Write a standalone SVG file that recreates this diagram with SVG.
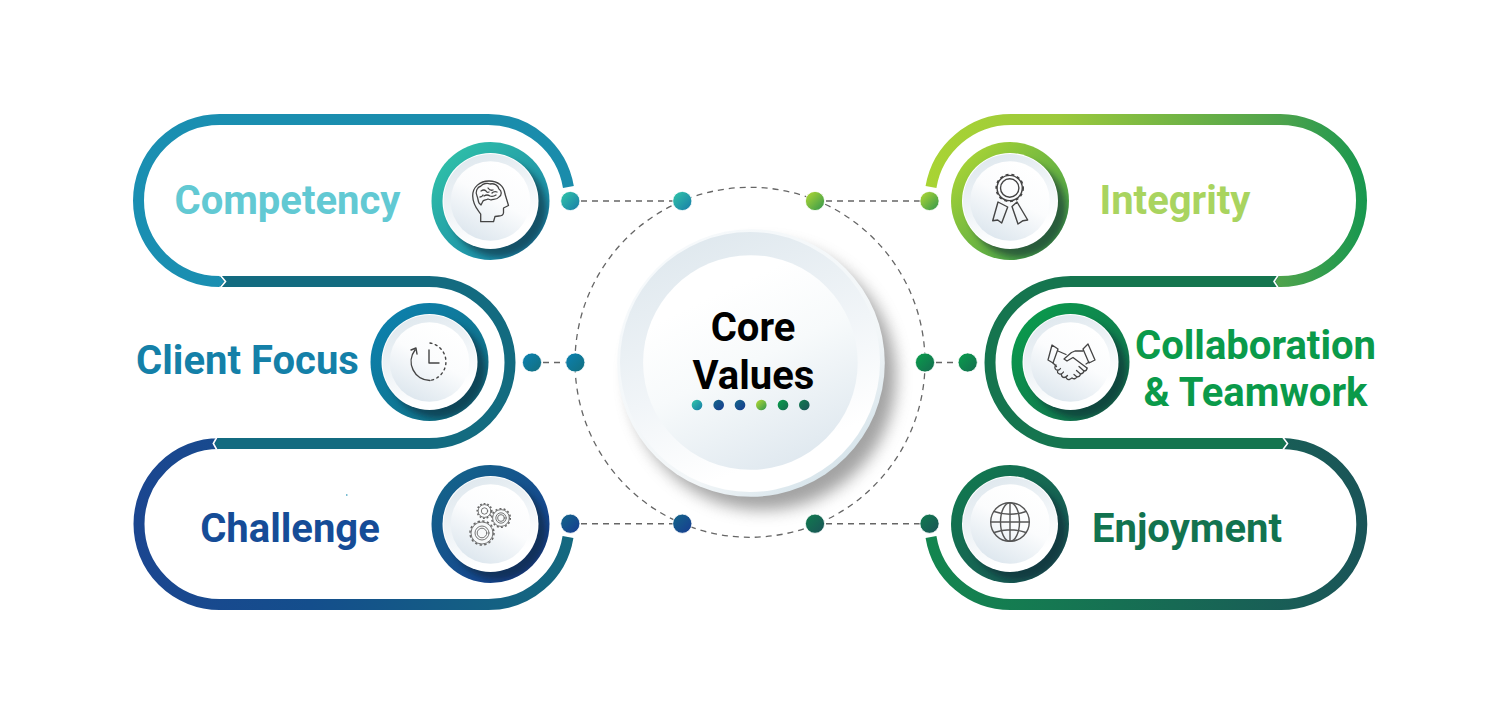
<svg xmlns="http://www.w3.org/2000/svg" xmlns:xlink="http://www.w3.org/1999/xlink" width="1500" height="725" viewBox="0 0 1500 725">
<style>
.label{font-family:Roboto,"Liberation Sans",sans-serif;font-weight:700;text-anchor:middle}
.band{fill:none;stroke-width:11}
.dash{fill:none;stroke:#666;stroke-width:1.5;stroke-dasharray:6 5}
.dot{stroke:#fff;stroke-width:.8}
.sep{fill:none;stroke:#fff;stroke-width:1.6}
.ic{fill:none;stroke:#444;stroke-width:1.3;stroke-linejoin:round;stroke-linecap:round}
</style>
<defs>
<linearGradient id="gA" x1=".1" y1=".1" x2=".9" y2=".9"><stop offset="0" stop-color="#2fc0a8"/><stop offset="1" stop-color="#1a82a8"/></linearGradient>
<linearGradient id="gB" x1=".1" y1=".1" x2=".9" y2=".9"><stop offset="0" stop-color="#0c80ad"/><stop offset="1" stop-color="#127082"/></linearGradient>
<linearGradient id="gC" x1=".1" y1=".1" x2=".9" y2=".9"><stop offset="0" stop-color="#14638a"/><stop offset="1" stop-color="#173f90"/></linearGradient>
<linearGradient id="gD" x1=".1" y1=".1" x2=".9" y2=".9"><stop offset="0" stop-color="#a9d435"/><stop offset="1" stop-color="#3c9c4b"/></linearGradient>
<linearGradient id="gE" x1=".1" y1=".1" x2=".9" y2=".9"><stop offset="0" stop-color="#0a9a4c"/><stop offset="1" stop-color="#14704f"/></linearGradient>
<linearGradient id="gF" x1=".1" y1=".1" x2=".9" y2=".9"><stop offset="0" stop-color="#11784f"/><stop offset="1" stop-color="#1a5656"/></linearGradient>
<linearGradient id="bA" gradientUnits="userSpaceOnUse" x1="133" y1="0" x2="575" y2="0"><stop offset="0" stop-color="#1a8fb2"/><stop offset="1" stop-color="#1a8cab"/></linearGradient>
<linearGradient id="bC" gradientUnits="userSpaceOnUse" x1="133" y1="0" x2="575" y2="0"><stop offset="0" stop-color="#1b4690"/><stop offset=".4" stop-color="#144e8c"/><stop offset="1" stop-color="#14697f"/></linearGradient>
<linearGradient id="bD" gradientUnits="userSpaceOnUse" x1="925" y1="0" x2="1367" y2="0"><stop offset="0" stop-color="#a9d433"/><stop offset=".3" stop-color="#9cc93c"/><stop offset=".8" stop-color="#4fa34c"/><stop offset="1" stop-color="#17974f"/></linearGradient>
<linearGradient id="bF" gradientUnits="userSpaceOnUse" x1="925" y1="0" x2="1367" y2="0"><stop offset="0" stop-color="#13864f"/><stop offset="1" stop-color="#1a5458"/></linearGradient>
<linearGradient id="rim" x1=".3" y1="0" x2=".7" y2="1"><stop offset="0" stop-color="#dfe8ee"/><stop offset=".5" stop-color="#f1f5f8"/><stop offset=".85" stop-color="#fff"/></linearGradient>
<linearGradient id="face" x1=".75" y1=".1" x2=".3" y2=".95"><stop offset="0" stop-color="#fff"/><stop offset=".45" stop-color="#fbfcfd"/><stop offset="1" stop-color="#dfe8ef"/></linearGradient>
<linearGradient id="coreFace" x1=".3" y1=".2" x2=".68" y2="1"><stop offset="0" stop-color="#fff"/><stop offset=".4" stop-color="#f7fafb"/><stop offset="1" stop-color="#dfe8ef"/></linearGradient>
<linearGradient id="edge" x1=".2" y1=".1" x2=".85" y2=".9"><stop offset="0" stop-color="#f6f9fb"/><stop offset=".7" stop-color="#f2f6f8"/><stop offset="1" stop-color="#d5e3ea"/></linearGradient>
<filter id="blur3" x="-30%" y="-30%" width="160%" height="160%"><feGaussianBlur stdDeviation="3"/></filter>
<filter id="blur8" x="-30%" y="-30%" width="160%" height="160%"><feGaussianBlur stdDeviation="8"/></filter>
<clipPath id="ringClip"><circle r="59"/></clipPath>
<g id="disc">
<g clip-path="url(#ringClip)"><circle cx="8" cy="8" r="48" fill="#0c2230" opacity=".55" filter="url(#blur3)"/></g>
<circle r="48" fill="#fff"/>
<circle r="47" fill="url(#rim)"/>
<circle r="39.8" fill="url(#face)"/>
</g>
</defs>
<rect width="1500" height="725" fill="#fff"/>

<g id="connectors">
<circle class="dash" cx="750" cy="362.3" r="175" style="stroke-width:1.3"/>
<path class="dash" d="M570 201H682M815 201H929M532 362.5H575M925 362.5H968M570 523.7H682M815 523.7H929"/>
<path class="band" stroke="url(#bC)" d="M215 443.5H219.5A80.5 80.5 0 0 0 219.5 604.5H488.5A80.5 80.5 0 0 0 568 537"/>
<path class="band" stroke="#136b80" d="M220 281.5H429A81 81 0 0 1 429 443.5H218"/>
<polygon points="218,438 214.6,443.5 218,449" fill="#136b80"/>
<polyline class="sep" points="216.7,437.5 213.3,443.5 216.7,449.5"/>
<path class="band" stroke="url(#bA)" d="M568.4 187A81 81 0 0 0 488.5 119.5H219.5A81 81 0 0 0 219.5 281.5"/>
<polygon points="219,276 224,281.5 219,287" fill="#1a8fb2"/>
<polyline class="sep" points="220.5,275.5 225.5,281.5 220.5,287.5"/>
<path class="band" stroke="url(#bF)" d="M1282 443.5A80.5 80.5 0 0 1 1280.5 604.5H1011A80.5 80.5 0 0 1 931 537"/>
<path class="band" stroke="#15754f" d="M1280 281.5H1071A81 81 0 0 0 1071 443.5H1282"/>
<polygon points="1282,438 1286,443.5 1282,449" fill="#15754f"/>
<polyline class="sep" points="1283,437.5 1287.5,443.5 1283,449.5"/>
<path class="band" stroke="url(#bD)" d="M931 187A81 81 0 0 1 1011 119.5H1280.5A81 81 0 0 1 1280.5 281.5H1279"/>
<polygon points="1279,276 1275.5,281.5 1279,287" fill="#4fa34c"/>
<polyline class="sep" points="1278,275.5 1274,281.5 1278,287.5"/>
<g class="dot">
<circle cx="570.3" cy="201" r="9.6" fill="url(#gA)"/><circle cx="682.3" cy="201" r="9.6" fill="url(#gA)"/>
<circle cx="532" cy="362.5" r="9.6" fill="url(#gB)"/><circle cx="575.3" cy="362.5" r="9.6" fill="url(#gB)"/>
<circle cx="570.3" cy="523.7" r="9.6" fill="url(#gC)"/><circle cx="682.3" cy="523.7" r="9.6" fill="url(#gC)"/>
<circle cx="815" cy="201" r="9.6" fill="url(#gD)"/><circle cx="929.5" cy="201" r="9.6" fill="url(#gD)"/>
<circle cx="925" cy="362.5" r="9.6" fill="url(#gE)"/><circle cx="967.7" cy="362.5" r="9.6" fill="url(#gE)"/>
<circle cx="815" cy="523.7" r="9.6" fill="url(#gF)"/><circle cx="929.5" cy="523.7" r="9.6" fill="url(#gF)"/>
</g>
<circle cx="346.8" cy="495" r=".8" fill="#1a8fb2"/>
</g>

<g id="core">
<circle cx="763" cy="377" r="133" fill="#777" opacity=".68" filter="url(#blur8)"/>
<circle cx="751" cy="363" r="133.8" fill="url(#edge)"/>
<circle cx="750" cy="362" r="130" fill="url(#rim)"/>
<circle cx="750.4" cy="362.5" r="107.3" fill="url(#coreFace)"/>
<text class="label" x="753" y="340.5" font-size="40" fill="#000">Core</text>
<text class="label" x="753.5" y="388.5" font-size="40" fill="#000">Values</text>
<circle cx="697" cy="405" r="5.3" fill="url(#gA)"/><circle cx="718.7" cy="405" r="5.3" fill="url(#gC)"/><circle cx="740" cy="405" r="5.3" fill="url(#gC)"/><circle cx="761.3" cy="405" r="5.3" fill="url(#gD)"/><circle cx="783" cy="405" r="5.3" fill="url(#gE)"/><circle cx="804.3" cy="405" r="5.3" fill="url(#gF)"/>
</g>

<g id="competency">
<circle cx="490.5" cy="201" r="59" fill="url(#gA)"/>
<use href="#disc" x="490.5" y="201"/>
<g class="ic" transform="translate(440 150)">
<path d="M40.7 71.7V64C38 60 33 56 32.7 46C32.5 37 40 31 49 31C58 31 64 36 65 44L68.5 55.5L63.5 58V63Q63 66 59 66L55 66.5L53.5 71.7Z"/>
<path d="M37 46C35 42 37 37 41 36C43 33 48 33 50 34C54 33 58 35 59 39C62 41 62 45 59 47C57 50 53 49 51 50L48 49C46 50 44 50 43 51L41 55L39 53C38 51 38 48 37 46ZM41 41q3-2 5 0q1 2 3 1M48 38q2 3 5 2M44 46q3-2 6 0q3 1 6-1M40 47q2 0 3-2M52 43q2-2 5-1"/>
</g>
<text class="label" x="287.5" y="213.5" font-size="40" fill="#62c9d3">Competency</text>
</g>

<g id="client-focus">
<circle cx="429.5" cy="362" r="59" fill="url(#gB)"/>
<use href="#disc" x="429.5" y="362"/>
<g class="ic" transform="translate(380 310)" style="stroke-width:1.4">
<path d="M50 70.5A19 19 0 0 1 35 40M31 40L36 38L37 44"/>
<path d="M50 33A19 19 0 0 1 50 70.5" stroke-dasharray="2 3.5"/>
<path d="M49 40V53H59"/>
</g>
<text class="label" x="247.5" y="373.5" font-size="40" fill="#1480a8">Client Focus</text>
</g>

<g id="challenge">
<circle cx="490.5" cy="524" r="59" fill="url(#gC)"/>
<use href="#disc" x="490.5" y="524"/>
<g class="ic" transform="translate(440 475)" style="stroke:#666;stroke-width:.9">
<circle cx="44.5" cy="36" r="6.4"/><circle cx="44.5" cy="36" r="7.3" stroke-width="1.5" stroke-dasharray="1.8 1.9" stroke-linecap="butt"/><circle cx="44.5" cy="36" r="3.2"/>
<circle cx="61" cy="43" r="8.4" fill="#f7f9fa"/><circle cx="61" cy="43" r="9.3" stroke-width="1.5" stroke-dasharray="2 2.2" stroke-linecap="butt"/><circle cx="61" cy="43" r="5.2"/><circle cx="61" cy="43" r="3.4"/>
<circle cx="42" cy="58" r="11" fill="#f7f9fa"/><circle cx="42" cy="58" r="12" stroke-width="1.5" stroke-dasharray="2.4 2.3" stroke-linecap="butt"/><circle cx="42" cy="58" r="7"/><circle cx="42" cy="58" r="4.8"/>
</g>
<text class="label" x="290" y="542" font-size="40" fill="#154c97">Challenge</text>
</g>

<g id="integrity">
<circle cx="1010" cy="201" r="59" fill="url(#gD)"/>
<use href="#disc" x="1010" y="201"/>
<g class="ic" transform="translate(960 150)" style="stroke-width:1.4">
<circle cx="49.7" cy="38" r="12.6"/><circle cx="49.7" cy="38" r="13.5" stroke-width="1.6" stroke-dasharray="3 2.9" stroke-linecap="butt"/><circle cx="49.7" cy="38" r="9.2"/>
<path d="M38 52L47.7 57L41.7 73L37.7 70L32.7 70.7ZM52 56.5L57 52L67.7 70L63 70.7L58 74Z"/>
</g>
<text class="label" x="1175" y="213.5" font-size="40" fill="#a9d45f">Integrity</text>
</g>

<g id="collaboration">
<circle cx="1070.5" cy="362" r="59" fill="url(#gE)"/>
<use href="#disc" x="1070.5" y="362"/>
<g class="ic" transform="translate(1020 310)">
<path d="M32 35L28 50L33 53L38 39ZM68 34L75 50L69 53L63 39Z"/>
<path d="M38 41L46 44.5M63 41H55L51.5 42.5L44 49L47 51L53 47.5L67 58M69 52L66 54"/>
<path d="M33 53L36.5 56.5M36 55Q33.5 58 36.5 60Q39 61 40.5 58.5M38 60Q36.5 63 39.5 64Q42 64.5 43.5 62M41.5 64Q41 67 44 67.5Q46 67.5 47.5 65.5M46 67Q46.5 70 49.5 69.5L52 68M52 68Q55 70 57 67L54 64.5M57 67Q60 67 60.5 64L56.5 60.5M60.5 64Q63.5 63.5 64 61L59 56.5M64 61Q67 61 67 58"/>
</g>
<text class="label" x="1255.5" y="358.5" font-size="40" fill="#0a9a4a">Collaboration</text>
<text class="label" x="1255.5" y="405.5" font-size="40" fill="#0a9a4a">&amp; Teamwork</text>
</g>

<g id="enjoyment">
<circle cx="1010" cy="524" r="59" fill="url(#gF)"/>
<use href="#disc" x="1010" y="524"/>
<g class="ic" transform="translate(960 475)" style="stroke:#555;stroke-width:1.4">
<circle cx="50" cy="47" r="19.3"/><ellipse cx="50" cy="47" rx="9.5" ry="19.3"/><path d="M50 27.7V66.3M30.7 47H69.3M34 36.5Q50 42 66 36.5M34 57.5Q50 52 66 57.5"/>
</g>
<text class="label" x="1187" y="541.5" font-size="40" fill="#12734f">Enjoyment</text>
</g>
</svg>
